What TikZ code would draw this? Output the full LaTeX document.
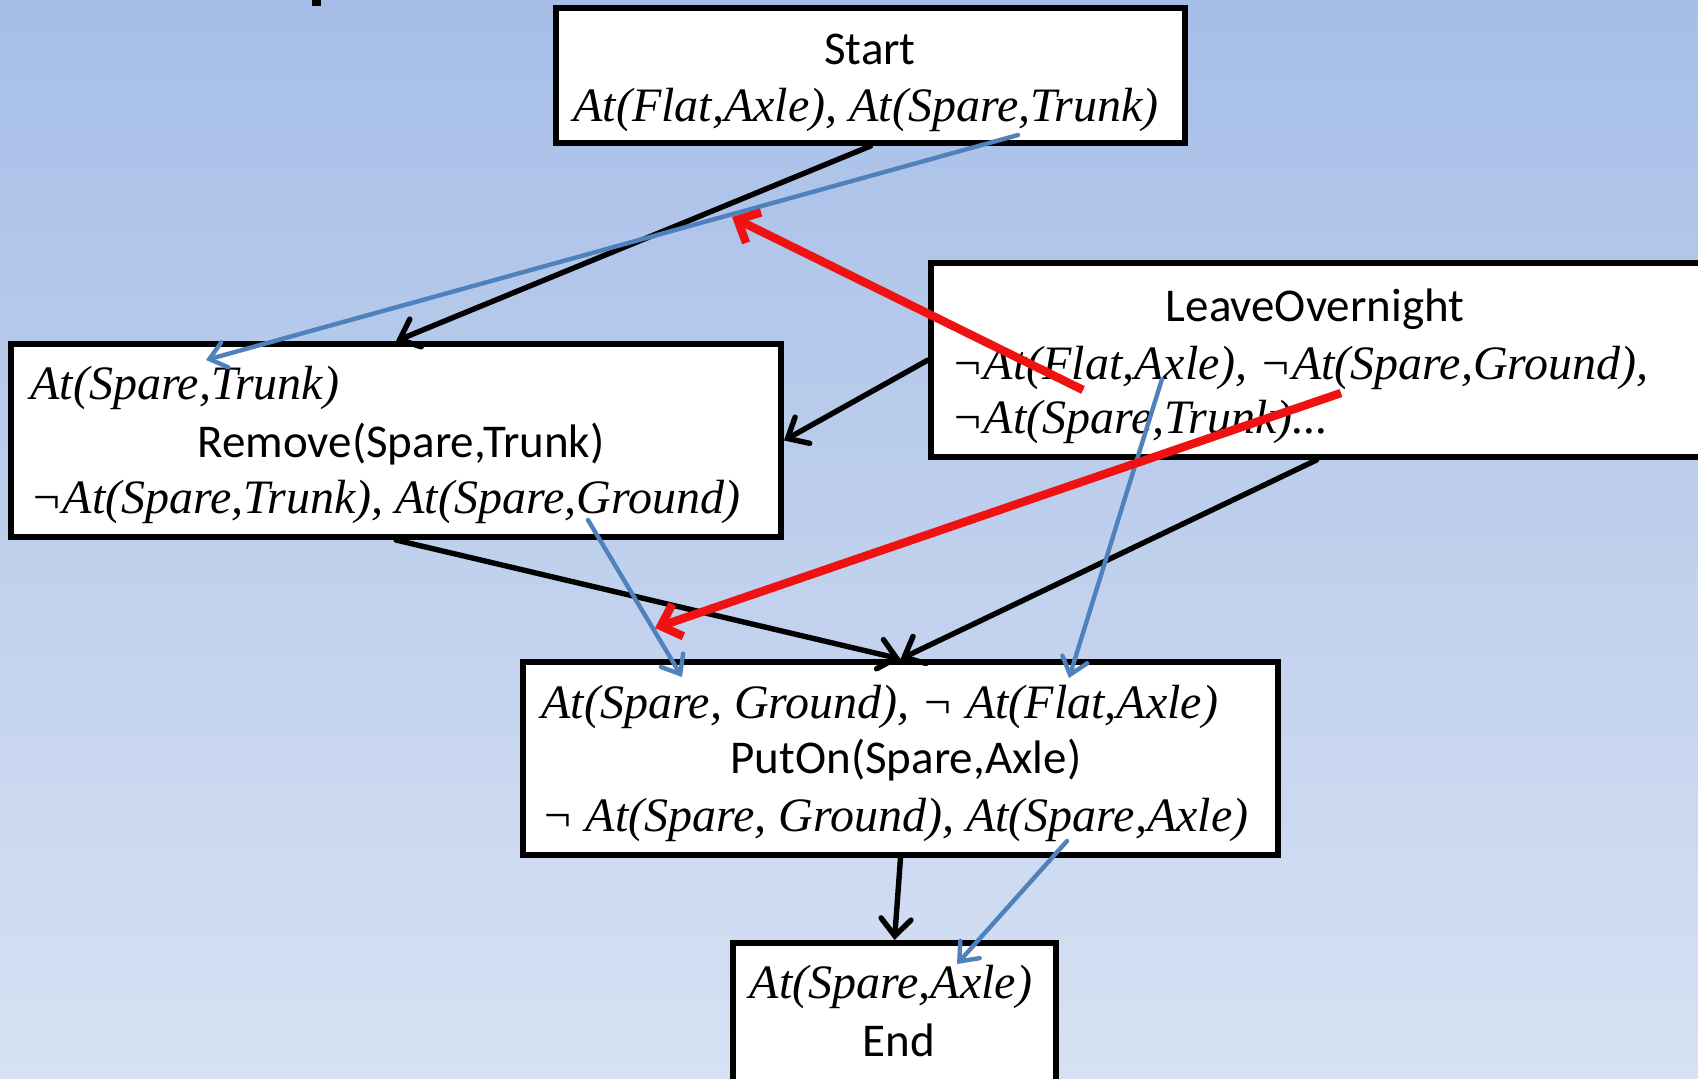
\documentclass[tikz,border=0pt]{standalone}
\usepackage{fontspec}
\setmainfont{Liberation Serif}
\newfontfamily\calfont{Carlito}
\usetikzlibrary{arrows.meta}
\definecolor{bgtop}{RGB}{166,190,231}
\definecolor{bgbot}{RGB}{215,225,243}
\definecolor{linkblue}{RGB}{79,129,189}
\definecolor{threatred}{RGB}{240,18,18}
\begin{document}
\begin{tikzpicture}[x=0.5pt,y=-0.5pt,
  box/.style={draw=black, line width=3pt, fill=white, inner sep=0pt, rectangle},
  cond/.style={inner sep=0pt, font=\fontsize{24}{28}\selectfont\itshape},
  act/.style={inner sep=0pt, font=\calfont\fontsize{23.5}{28}\selectfont},
  order/.style={draw=black, line width=2.7pt, line cap=round,
    -{Straight Barb[length=8.5pt,width=15pt,line cap=round]}},
  causal/.style={draw=linkblue, line width=2.2pt, line cap=round,
    -{Straight Barb[length=8pt,width=13pt,line cap=round]}},
  threat/.style={draw=threatred, line width=4.2pt,
    -{Straight Barb[length=9pt,width=17pt]}}]
\useasboundingbox (0,0) rectangle (1698,1078);
\clip (0,0) rectangle (1698,1078);
\shade[top color=bgtop, bottom color=bgbot] (0,0) rectangle (1698,1078);
% fragment of the heading above the picture
\fill[black] (312,0) rectangle (321,6);

% step boxes
\node[box, minimum width=314.5pt, minimum height=67.5pt] (start) at (870.5,75.5) {};
\node[box, minimum width=385.5pt, minimum height=97pt] (leave) at (1316.5,360) {};
\node[box, minimum width=385pt, minimum height=96.5pt] (remove) at (396,440.5) {};
\node[box, minimum width=377.5pt, minimum height=96.5pt] (puton) at (900.5,758.5) {};
\node[box, minimum width=161.5pt, minimum height=78.5pt] (finish) at (894.5,1021.5) {};

% box texts
\node[act, anchor=base] (startname) at (870,64) {Start};
\node[cond, anchor=base] (starteff) at (866,121) {At(Flat,Axle), At(Spare,Trunk)};

\node[act, anchor=base] (leavename) at (1315,321) {LeaveOvernight};
\node[cond, anchor=base west] (leaveeff1) at (951,379) {¬At(Flat,Axle), ¬At(Spare,Ground),};
\node[cond, anchor=base west] (leaveeff2) at (951,433) {¬At(Spare,Trunk)...};

\node[cond, anchor=base west] (removepre) at (30,399) {At(Spare,Trunk)};
\node[act, anchor=base] (removename) at (401,457) {Remove(Spare,Trunk)};
\node[cond, anchor=base west] (removeeff) at (30,513) {¬At(Spare,Trunk), At(Spare,Ground)};

\node[cond, anchor=base west] (putonpre) at (541,718) {At(Spare, Ground), ¬ At(Flat,Axle)};
\node[act, anchor=base] (putonname) at (906,773) {PutOn(Spare,Axle)};
\node[cond, anchor=base west] (putoneff) at (541,831) {¬ At(Spare, Ground), At(Spare,Axle)};

\node[cond, anchor=base] (finishpre) at (891,998) {At(Spare,Axle)};
\node[act, anchor=base] (finishname) at (899,1056) {End};

% ordering constraints
\draw[order] (start.south) -- (remove.north);
\draw[order] (leave.west) -- (remove.east);
\draw[order] (remove.south) -- (puton.north);
\draw[order] (leave.south) -- (puton.north);
\draw[order] (puton.south) -- (finish.north);

% causal links
\coordinate (c1a) at (1018,135);
\coordinate (c1b) at (206,360);
\coordinate (c2a) at (588,520);
\coordinate (c2b) at (682,677);
\coordinate (c3a) at (1162,379);
\coordinate (c3b) at (1069,678);
\coordinate (c4a) at (1067,841);
\coordinate (c4b) at (957,964);
\draw[causal] (c1a) -- (c1b);
\draw[causal] (c2a) -- (c2b);
\draw[causal] (c3a) -- (c3b);
\draw[causal] (c4a) -- (c4b);

% threats
\coordinate (t1a) at (1083,390);
\coordinate (t1b) at (732,217);
\coordinate (t2a) at (1341,393);
\coordinate (t2b) at (655,628);
\draw[threat] (t1a) -- (t1b);
\draw[threat] (t2a) -- (t2b);
\end{tikzpicture}
\end{document}
